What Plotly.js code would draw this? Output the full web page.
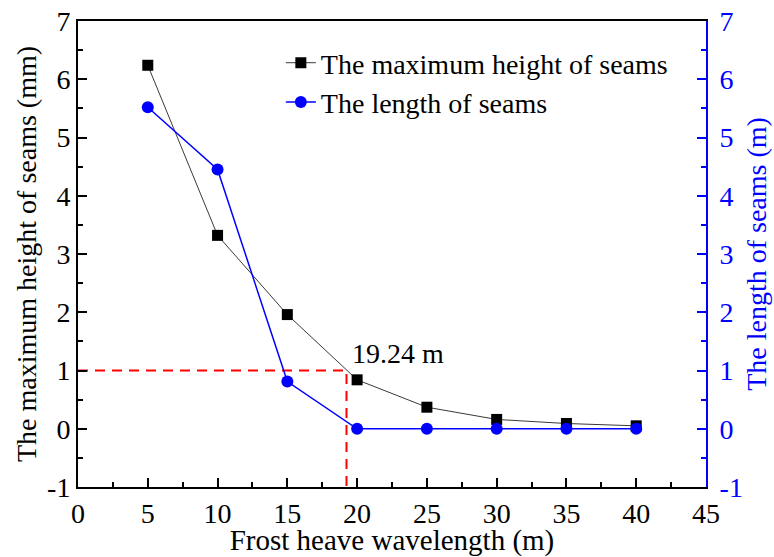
<!DOCTYPE html>
<html>
<head>
<meta charset="utf-8">
<script src="https://cdn.plot.ly/plotly-3.0.1.min.js"></script>
<style>
  html, body { margin: 0; padding: 0; background: #fff; }
  #chart { width: 774px; height: 557px; }
</style>
</head>
<body>
<div id="chart"></div>
<script>
// Frost heave wavelength (m)
const wavelength = [5, 10, 15, 20, 25, 30, 35, 40];
// Maximum height of seams (mm)
const maxHeight = [6.24, 3.32, 1.96, 0.84, 0.37, 0.16, 0.09, 0.05];
// Length of seams (m)
const seamLength = [5.52, 4.45, 0.81, 0, 0, 0, 0, 0];
// 1 mm height limit and the wavelength where it is reached
const limitHeight = 1;
const limitWavelength = 19.24;
// Shared tick values / labels of both vertical axes
const yTickVals = [-1, 0, 1, 2, 3, 4, 5, 6, 7];
const yTickText = ['-1', '0', '1', '2', '3', '4', '5', '6', '7'];

const FONT = '"Liberation Serif", "Times New Roman", serif';
const BLUE = '#0000ff';
const TICK_SIZE = 28;
const TITLE_SIZE = 28;

const traces = [
  {
    x: wavelength, y: maxHeight, name: 'The maximum height of seams',
    type: 'scatter', mode: 'lines+markers',
    line: { color: '#3a3a3a', width: 1 },
    marker: { symbol: 'square', size: 11, color: '#000' },
    xaxis: 'x', yaxis: 'y'
  },
  {
    x: wavelength, y: seamLength, name: 'The length of seams',
    type: 'scatter', mode: 'lines+markers',
    line: { color: BLUE, width: 1.5 },
    marker: { symbol: 'circle', size: 12, color: BLUE },
    xaxis: 'x', yaxis: 'y2'
  },
  {
    x: [0, limitWavelength, limitWavelength],
    y: [limitHeight, limitHeight, -1],
    type: 'scatter', mode: 'lines', showlegend: false, hoverinfo: 'skip',
    line: { color: '#ff0000', width: 2, dash: '10px,7px' },
    xaxis: 'x', yaxis: 'y'
  }
];

const layout = {
  width: 774, height: 557,
  paper_bgcolor: '#fff', plot_bgcolor: '#fff',
  margin: { l: 78, r: 68, t: 21, b: 70 },
  font: { family: FONT, size: TICK_SIZE, color: '#000' },
  showlegend: true,
  legend: {
    x: 0.323, y: 0.9635, xanchor: 'left', yanchor: 'top',
    bgcolor: 'rgba(0,0,0,0)', borderwidth: 0,
    font: { family: FONT, size: TITLE_SIZE, color: '#000' },
    tracegroupgap: 0
  },
  xaxis: {
    range: [0, 45], dtick: 5, tick0: 0,
    showgrid: false, zeroline: false,
    showline: true, linecolor: '#000', linewidth: 2, mirror: true,
    ticks: 'inside', ticklen: 9, tickwidth: 2, tickcolor: '#000',
    minor: { dtick: 2.5, ticks: 'inside', ticklen: 5, tickwidth: 2, tickcolor: '#000', showgrid: false },
    tickfont: { family: FONT, size: TICK_SIZE, color: '#000' },
    title: { text: 'Frost heave wavelength (m)', font: { family: FONT, size: 29, color: '#000' }, standoff: 7 },
    automargin: false
  },
  yaxis: {
    range: [-1, 7], tickmode: 'array', tickvals: yTickVals, ticktext: yTickText,
    showgrid: false, zeroline: false,
    showline: true, linecolor: '#000', linewidth: 2,
    ticks: 'inside', ticklen: 9, tickwidth: 2, tickcolor: '#000',
    minor: { dtick: 0.5, tick0: 0, ticks: 'inside', ticklen: 5, tickwidth: 2, tickcolor: '#000', showgrid: false },
    tickfont: { family: FONT, size: TICK_SIZE, color: '#000' },
    title: { text: 'The maximum height of seams (mm)', font: { family: FONT, size: TITLE_SIZE, color: '#000' }, standoff: 2 },
    automargin: false
  },
  yaxis2: {
    overlaying: 'y', side: 'right', anchor: 'x',
    range: [-1, 7], tickmode: 'array', tickvals: yTickVals, ticktext: yTickText,
    showgrid: false, zeroline: false,
    showline: true, linecolor: BLUE, linewidth: 2,
    ticks: 'inside', ticklen: 9, tickwidth: 2, tickcolor: BLUE,
    minor: { dtick: 0.5, tick0: 0, ticks: 'inside', ticklen: 5, tickwidth: 2, tickcolor: BLUE, showgrid: false },
    tickfont: { family: FONT, size: TICK_SIZE, color: BLUE },
    ticklabelstandoff: 6,
    title: { text: 'The length of seams (m)', font: { family: FONT, size: TITLE_SIZE, color: BLUE }, standoff: 4 },
    automargin: false
  },
  annotations: [
    {
      x: limitWavelength + 0.25, y: limitHeight + 0.3, xref: 'x', yref: 'y',
      xanchor: 'left', yanchor: 'middle', showarrow: false,
      text: limitWavelength.toFixed(2) + ' m',
      font: { family: FONT, size: TITLE_SIZE, color: '#000' }
    }
  ]
};

Plotly.newPlot('chart', traces, layout, { displayModeBar: false, staticPlot: true });
</script>
</body>
</html>
